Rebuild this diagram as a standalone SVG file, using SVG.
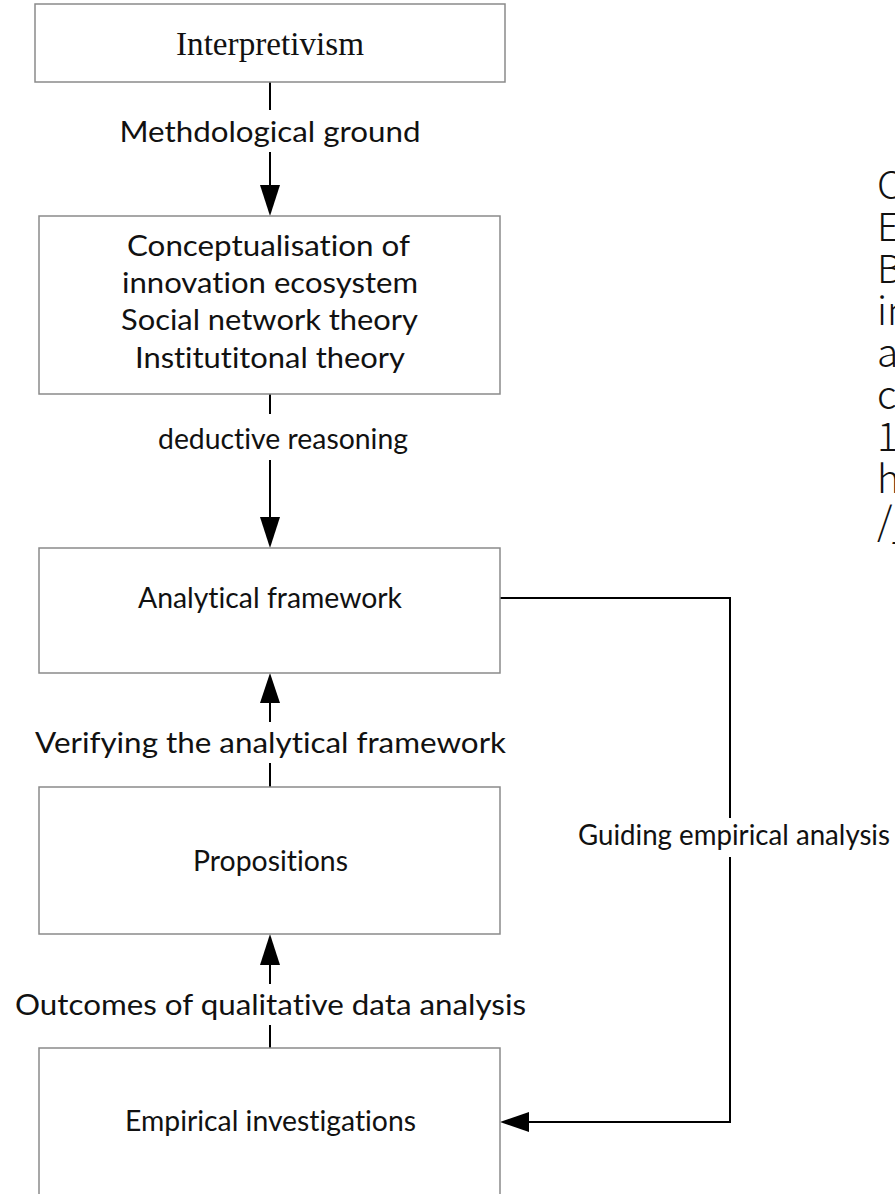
<svg xmlns="http://www.w3.org/2000/svg" width="895" height="1194" viewBox="0 0 895 1194">
  <style>
    .box { fill: #ffffff; stroke: #8a8a8a; stroke-width: 1.5; }
    .lbl { font-family: Lato, "Open Sans", "Liberation Sans", sans-serif; font-size: 28px; fill: #111111; text-anchor: middle; font-variant-ligatures: none; font-feature-settings: "liga" 0, "dlig" 0; }
    .serif { font-family: "Liberation Serif", "DejaVu Serif", serif; font-size: 33px; fill: #111111; text-anchor: middle; }
    .wire { fill: none; stroke: #000000; stroke-width: 2; }
    .head { fill: #000000; stroke: none; }
    .side { font-family: "Noto Sans CJK SC", "Noto Sans", sans-serif; font-weight: 300; font-size: 39px; fill: #111111; }
  </style>
  <rect width="895" height="1194" fill="#ffffff"/>

  <!-- connectors -->
  <g id="connectors">
    <!-- Interpretivism -> theory box -->
    <line class="wire" x1="270" y1="82" x2="270" y2="110"/>
    <line class="wire" x1="270" y1="152" x2="270" y2="188"/>
    <polygon class="head" points="260,185 280,185 270,216"/>
    <!-- theory box -> analytical framework -->
    <line class="wire" x1="270" y1="394" x2="270" y2="414"/>
    <line class="wire" x1="270" y1="460" x2="270" y2="520"/>
    <polygon class="head" points="260,517 280,517 270,548"/>
    <!-- propositions -> analytical framework -->
    <polygon class="head" points="270,673 260,703 280,703"/>
    <line class="wire" x1="270" y1="700" x2="270" y2="722"/>
    <line class="wire" x1="270" y1="763" x2="270" y2="787"/>
    <!-- empirical investigations -> propositions -->
    <polygon class="head" points="270,934 260,965 280,965"/>
    <line class="wire" x1="270" y1="962" x2="270" y2="984"/>
    <line class="wire" x1="270" y1="1025" x2="270" y2="1048"/>
    <!-- analytical framework -> empirical investigations (feedback loop) -->
    <polyline class="wire" points="500,598 730,598 730,818"/>
    <polyline class="wire" points="730,857 730,1122 526,1122"/>
    <polygon class="head" points="500,1122 529,1112 529,1132"/>

    <text class="lbl" x="270" y="142" textLength="301" lengthAdjust="spacingAndGlyphs">Methdological ground</text>
    <text class="lbl" x="283" y="449" textLength="250" lengthAdjust="spacingAndGlyphs">deductive reasoning</text>
    <text class="lbl" x="270.5" y="753" textLength="471" lengthAdjust="spacingAndGlyphs">Verifying the analytical framework</text>
    <text class="lbl" x="270.5" y="1015" textLength="511" lengthAdjust="spacingAndGlyphs">Outcomes of qualitative data analysis</text>
    <text class="lbl" x="734" y="845" textLength="312" lengthAdjust="spacingAndGlyphs">Guiding empirical analysis</text>
  </g>

  <g id="node-interpretivism">
    <rect class="box" x="35" y="4" width="470" height="78"/>
    <text class="serif" x="270" y="55" textLength="188" lengthAdjust="spacingAndGlyphs">Interpretivism</text>
  </g>

  <g id="node-theory">
    <rect class="box" x="39" y="216" width="461" height="178"/>
    <text class="lbl" x="268.5" y="256" textLength="283" lengthAdjust="spacingAndGlyphs">Conceptualisation of</text>
    <text class="lbl" x="270" y="293" textLength="296" lengthAdjust="spacingAndGlyphs">innovation ecosystem</text>
    <text class="lbl" x="269.5" y="330" textLength="297" lengthAdjust="spacingAndGlyphs">Social network theory</text>
    <text class="lbl" x="270" y="368" textLength="270" lengthAdjust="spacingAndGlyphs">Institutitonal theory</text>
  </g>

  <g id="node-framework">
    <rect class="box" x="39" y="548" width="461" height="125"/>
    <text class="lbl" x="270" y="608" textLength="264" lengthAdjust="spacingAndGlyphs">Analytical framework</text>
  </g>

  <g id="node-propositions">
    <rect class="box" x="39" y="787" width="461" height="147"/>
    <text class="lbl" x="270.5" y="871" textLength="155" lengthAdjust="spacingAndGlyphs">Propositions</text>
  </g>

  <g id="node-empirical">
    <rect class="box" x="39" y="1048" width="461" height="160"/>
    <text class="lbl" x="270.5" y="1131" textLength="291" lengthAdjust="spacingAndGlyphs">Empirical investigations</text>
  </g>

  <!-- text block running off the right edge -->
  <g id="side-text" class="side">
    <text x="877" y="199">C</text>
    <text x="877" y="241">E</text>
    <text x="877" y="283">B</text>
    <text x="877" y="325">in</text>
    <text x="877" y="367">a</text>
    <text x="877" y="409">c</text>
    <text x="877" y="451">1</text>
    <text x="877" y="493">h</text>
    <text x="877" y="535">/j</text>
  </g>
</svg>
